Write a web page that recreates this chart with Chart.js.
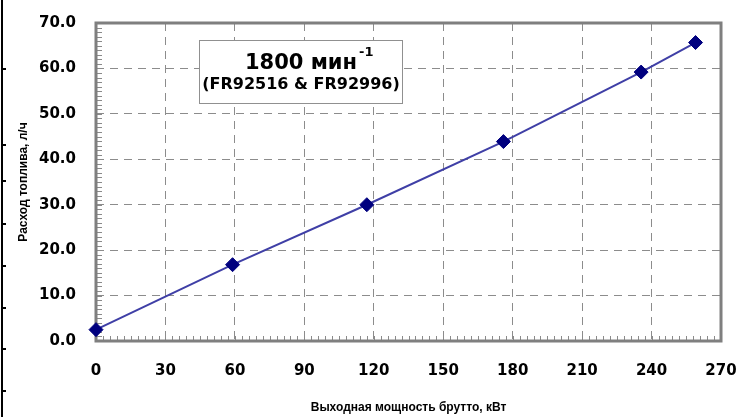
<!DOCTYPE html>
<html>
<head>
<meta charset="utf-8">
<script src="https://cdn.jsdelivr.net/npm/chart.js@4.4.1/dist/chart.umd.min.js"></script>
<style>
    html, body { margin: 0; padding: 0; background: #fff; }
    #wrap { position: relative; width: 739px; height: 417px; }
    #edge { position: absolute; left: 1px; top: 0; width: 2px; height: 417px; background: #000; }
    .nick { position: absolute; left: 1px; width: 5px; height: 2px; background: #000; }
</style>
</head>
<body>
<div id="wrap">
    <canvas id="fuelChart" width="739" height="417"></canvas>
    <div id="edge"></div>
</div>
<script>
// Fuel consumption vs gross output power, 1800 rpm
const powerKw = [0, 59, 117, 176, 235.5, 259];
const fuelLh = [2.5, 16.8, 30.0, 43.9, 59.2, 65.7];

const xMin = 0, xMax = 270, xStep = 30, xMinorStep = 3;
const yMin = 0, yMax = 70, yStep = 10, yMinorStep = 1;

const xTitle = 'Выходная мощность брутто, кВт';
const yTitle = 'Расход топлива, л/ч';
const noteMain = '1800 мин';
const noteSup = '-1';
const noteModels = '(FR92516 & FR92996)';

// left page edge nicks (leftover table border in the source picture)
const edgeNicks = [68, 144, 180, 223, 265, 307, 348, 390];
edgeNicks.forEach(y => {
    const d = document.createElement('div');
    d.className = 'nick';
    d.style.top = y + 'px';
    document.getElementById('wrap').appendChild(d);
});

const tickFont = { family: "'DejaVu Sans', sans-serif", size: 15, weight: 'bold' };
const titleFont = { family: "'Liberation Sans', Arial, sans-serif", size: 12, weight: 'bold' };

// frame + small inner ticks, drawn under the markers
const framePlugin = {
    id: 'framePlugin',
    beforeDatasetsDraw(chart) {
        const { ctx, chartArea: a, scales: { x, y } } = chart;
        ctx.save();
        ctx.strokeStyle = '#8a8a8a';
        ctx.lineWidth = 1;
        ctx.beginPath();
        for (let v = yMin; v <= yMax; v += yMinorStep) {
            const py = Math.round(y.getPixelForValue(v)) + 0.5;
            ctx.moveTo(a.left, py);
            ctx.lineTo(a.left + 6, py);
        }
        for (let v = xMin; v <= xMax; v += xMinorStep) {
            const px = Math.round(x.getPixelForValue(v)) + 0.5;
            ctx.moveTo(px, a.bottom);
            ctx.lineTo(px, a.bottom - 5);
        }
        ctx.stroke();
        ctx.strokeStyle = '#7f7f7f';
        ctx.lineWidth = 3;
        ctx.strokeRect(a.left, a.top, a.right - a.left, a.bottom - a.top);
        ctx.restore();
    }
};

// note box with the speed and model numbers
const notePlugin = {
    id: 'notePlugin',
    afterDraw(chart) {
        const { ctx, scales: { x, y } } = chart;
        const left = Math.round(x.getPixelForValue(44.5)) + 0.5;
        const right = Math.round(x.getPixelForValue(132)) + 0.5;
        const top = Math.round(y.getPixelForValue(66.2)) + 0.5;
        const bottom = Math.round(y.getPixelForValue(52.5)) + 0.5;
        const cx = (left + right) / 2;
        ctx.save();
        ctx.fillStyle = '#fff';
        ctx.fillRect(left, top, right - left, bottom - top);
        ctx.strokeStyle = '#909090';
        ctx.lineWidth = 1;
        ctx.strokeRect(left, top, right - left, bottom - top);

        ctx.fillStyle = '#000';
        ctx.textBaseline = 'alphabetic';
        ctx.font = "bold 21px 'DejaVu Sans', sans-serif";
        const w = ctx.measureText(noteMain).width;
        ctx.textAlign = 'left';
        ctx.fillText(noteMain, cx - w / 2, top + 28);
        ctx.font = "bold 13px 'DejaVu Sans', sans-serif";
        ctx.fillText(noteSup, cx + w / 2 + 2, top + 15);

        ctx.font = "bold 16px 'DejaVu Sans', sans-serif";
        ctx.textAlign = 'center';
        ctx.fillText(noteModels, cx, top + 48);
        ctx.restore();
    }
};

const ctx = document.getElementById('fuelChart');
new Chart(ctx, {
    type: 'scatter',
    data: {
        datasets: [{
            data: powerKw.map((p, i) => ({ x: p, y: fuelLh[i] })),
            showLine: true,
            borderColor: '#3f3fa6',
            borderWidth: 2,
            pointStyle: 'rectRot',
            pointRadius: 7,
            pointHoverRadius: 7,
            pointBackgroundColor: '#00007f',
            pointBorderColor: '#00007f',
            pointBorderWidth: 1,
            clip: false
        }]
    },
    options: {
        responsive: false,
        animation: false,
        events: [],
        layout: { padding: { top: 23, right: 18, left: 0, bottom: 0 } },
        plugins: {
            legend: { display: false },
            tooltip: { enabled: false }
        },
        scales: {
            x: {
                type: 'linear',
                min: xMin,
                max: xMax,
                afterFit: (scale) => {
                    scale.height = 76;
                    scale.paddingLeft = 0;
                    scale.paddingRight = 0;
                },
                ticks: {
                    stepSize: xStep,
                    color: '#000',
                    font: tickFont,
                    padding: 21,
                    maxRotation: 0
                },
                grid: { color: '#8c8c8c', lineWidth: 1, drawTicks: false },
                border: { display: false, dash: [8, 6] },
                title: {
                    display: true,
                    text: xTitle,
                    color: '#000',
                    font: titleFont,
                    padding: { top: 0, bottom: 2 }
                }
            },
            y: {
                type: 'linear',
                min: yMin,
                max: yMax,
                afterFit: (scale) => {
                    scale.width = 96;
                    scale.paddingTop = 0;
                    scale.paddingBottom = 0;
                },
                ticks: {
                    stepSize: yStep,
                    color: '#000',
                    font: tickFont,
                    padding: 20,
                    callback: (v) => v.toFixed(1)
                },
                grid: { color: '#8c8c8c', lineWidth: 1, drawTicks: false },
                border: { display: false, dash: [8, 6] },
                title: {
                    display: true,
                    text: yTitle,
                    color: '#000',
                    font: titleFont,
                    padding: { top: 16, bottom: 0 }
                }
            }
        }
    },
    plugins: [framePlugin, notePlugin]
});
</script>
</body>
</html>
